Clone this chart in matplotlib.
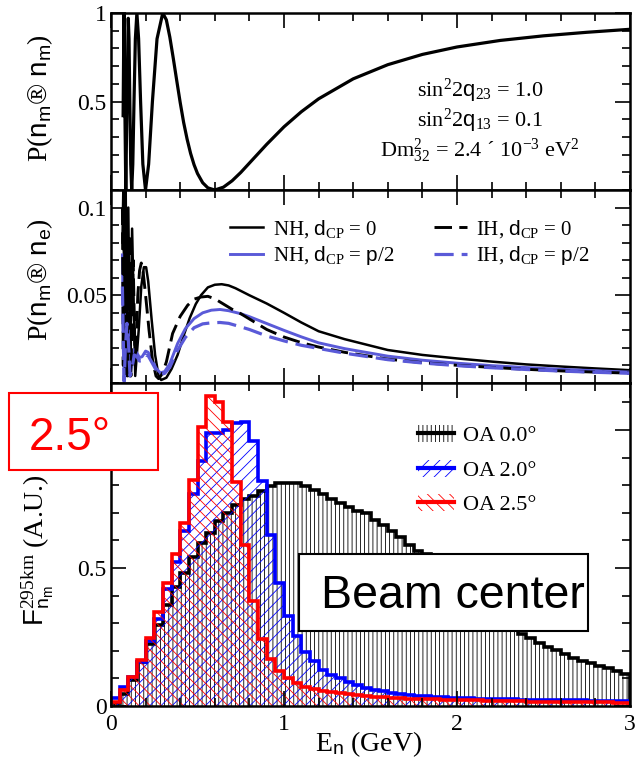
import numpy as np
import matplotlib.pyplot as plt
from matplotlib.patches import Patch, Rectangle
from matplotlib.lines import Line2D
from matplotlib.ticker import MultipleLocator

plt.rcParams['font.family'] = ['Liberation Serif', 'DejaVu Serif']
plt.rcParams['mathtext.fontset'] = 'custom'
plt.rcParams['mathtext.rm'] = 'Liberation Serif'
plt.rcParams['mathtext.it'] = 'Liberation Serif:italic'
plt.rcParams['mathtext.sf'] = 'Liberation Sans'
plt.rcParams['hatch.linewidth'] = 0.6

# --- top panel: numu survival probability ---
e_surv = [0.07, 0.0748, 0.0798, 0.0855, 0.0921, 0.0997, 0.1041, 0.1088, 0.114, 0.1197,
          0.126, 0.133, 0.1408, 0.1496, 0.1596, 0.171, 0.1841, 0.1995, 0.2176, 0.2394,
          0.266, 0.2992, 0.32, 0.34, 0.36, 0.38, 0.40, 0.42, 0.44, 0.46, 0.48, 0.50,
          0.53, 0.56, 0.60, 0.65, 0.70, 0.75, 0.80, 0.90, 1.0, 1.1, 1.2, 1.4, 1.6, 1.8,
          2.0, 2.25, 2.5, 2.75, 3.0]
p_surv = [0.42, 1.0, 0.5, 0.0, 0.5, 0.97, 0.854, 0.5, 0.146, 0.0,
          0.146, 0.5, 0.854, 1.0, 0.854, 0.5, 0.146, 0.0, 0.146, 0.5,
          0.854, 1.0, 0.961, 0.864, 0.744, 0.618, 0.494, 0.381, 0.287, 0.207, 0.143, 0.093,
          0.041, 0.012, 0.0, 0.016, 0.052, 0.099, 0.152, 0.258, 0.357, 0.442, 0.515, 0.628,
          0.708, 0.766, 0.808, 0.845, 0.871, 0.891, 0.908]

# --- middle panel: nue appearance ---
e_nh0 = [0.066, 0.072, 0.078, 0.085, 0.092, 0.100, 0.110, 0.122, 0.140, 0.160, 0.175,
         0.190, 0.203, 0.215, 0.235, 0.255, 0.275, 0.29, 0.32, 0.35, 0.385, 0.42, 0.455,
         0.49, 0.52, 0.56, 0.60, 0.64, 0.68, 0.72, 0.80, 0.90, 1.00, 1.10, 1.20, 1.35,
         1.6, 1.8, 2.0, 2.2, 2.4, 2.6, 2.8, 3.0]
p_nh0 = [0.080, 0.115, 0.004, 0.112, 0.004, 0.100, 0.004, 0.088, 0.004, 0.030, 0.055,
         0.066, 0.066, 0.058, 0.036, 0.016, 0.004, 0.0017, 0.003, 0.008, 0.016, 0.027, 0.037,
         0.045, 0.050, 0.0545, 0.0560, 0.0563, 0.0556, 0.0540, 0.0500, 0.0453, 0.0400, 0.0345,
         0.0295, 0.0250, 0.0188, 0.0160, 0.0140, 0.0122, 0.0106, 0.0094, 0.0083, 0.0073]

e_ih0 = [0.066, 0.071, 0.077, 0.083, 0.090, 0.097, 0.105, 0.115, 0.128, 0.140, 0.155,
         0.165, 0.175, 0.185, 0.20, 0.22, 0.24, 0.26, 0.275, 0.295, 0.32, 0.356, 0.40,
         0.443, 0.48, 0.52, 0.56, 0.60, 0.65, 0.70, 0.75, 0.80, 0.90, 1.00, 1.10, 1.20,
         1.35, 1.6, 1.8, 2.0, 2.2, 2.4, 2.6, 2.8, 3.0]
p_ih0 = [0.100, 0.010, 0.105, 0.004, 0.095, 0.004, 0.085, 0.004, 0.070, 0.010, 0.050,
         0.064, 0.0684, 0.064, 0.050, 0.030, 0.013, 0.004, 0.0025, 0.005, 0.012, 0.0282, 0.038,
         0.0443, 0.0478, 0.0490, 0.0494, 0.0480, 0.0450, 0.0420, 0.0395, 0.0365, 0.0305, 0.0262,
         0.0230, 0.0205, 0.0175, 0.0136, 0.0116, 0.0101, 0.0089, 0.0078, 0.0069, 0.0062, 0.0056]

e_cp = [0.066, 0.071, 0.076, 0.083, 0.092, 0.100, 0.110, 0.120, 0.135, 0.150, 0.165,
        0.180, 0.200, 0.215, 0.235, 0.26, 0.285, 0.31, 0.34, 0.385, 0.43, 0.48, 0.53,
        0.58, 0.63, 0.68, 0.75, 0.80, 0.90, 1.00, 1.10, 1.20, 1.35, 1.6, 1.8, 2.0, 2.2,
        2.4, 2.6, 2.8, 3.0]
p_nh_pi2 = [0.073, 0.035, 0.001, 0.025, 0.041, 0.030, 0.004, 0.010, 0.019, 0.017, 0.0145,
            0.0150, 0.0182, 0.0175, 0.0135, 0.0085, 0.0058, 0.0065, 0.011, 0.0225, 0.031, 0.0367,
            0.0400, 0.0415, 0.0419, 0.0412, 0.0395, 0.0378, 0.0339, 0.0300, 0.0263, 0.0229,
            0.0196, 0.0153, 0.0130, 0.0113, 0.0099, 0.0088, 0.0078, 0.0070, 0.0062]
p_ih_pi2 = [0.055, 0.025, 0.001, 0.020, 0.034, 0.025, 0.004, 0.008, 0.016, 0.015, 0.0125,
            0.0128, 0.0160, 0.0155, 0.0120, 0.0075, 0.0048, 0.0055, 0.009, 0.0187, 0.026, 0.0315,
            0.0337, 0.0343, 0.0345, 0.0340, 0.0320, 0.0305, 0.0268, 0.0240, 0.0215, 0.0197,
            0.0170, 0.0133, 0.0114, 0.0099, 0.0087, 0.0077, 0.0068, 0.0061, 0.0055]

# --- bottom panel: off-axis fluxes, 0.05 GeV bins ---
flux_oa00 = [0.012, 0.045, 0.095, 0.16, 0.223, 0.292, 0.366, 0.431, 0.483, 0.540,
             0.592, 0.628, 0.670, 0.700, 0.727, 0.749, 0.761, 0.779, 0.797, 0.806,
             0.809, 0.807, 0.797, 0.783, 0.767, 0.749, 0.734, 0.722, 0.708, 0.698,
             0.674, 0.656, 0.635, 0.611, 0.583, 0.563, 0.551, 0.53, 0.50, 0.47,
             0.44, 0.41, 0.38, 0.35, 0.32, 0.30, 0.28, 0.26, 0.245, 0.23,
             0.215, 0.203, 0.188, 0.175, 0.164, 0.155, 0.145, 0.138, 0.127, 0.115]
flux_oa20 = [0.028, 0.07, 0.105, 0.16, 0.235, 0.314, 0.423, 0.52, 0.634, 0.768,
             0.888, 0.99, 0.99, 1.0, 1.026, 1.03, 0.96, 0.815, 0.62, 0.447,
             0.326, 0.254, 0.197, 0.163, 0.130, 0.112, 0.100, 0.088, 0.076, 0.066,
             0.058, 0.054, 0.046, 0.042, 0.040, 0.037, 0.035, 0.032, 0.031, 0.030,
             0.029, 0.028, 0.027, 0.026, 0.025, 0.025, 0.024, 0.023, 0.023, 0.022,
             0.022, 0.021, 0.021, 0.020, 0.020, 0.019, 0.019, 0.019, 0.018, 0.018]
flux_oa25 = [0.016, 0.058, 0.104, 0.167, 0.245, 0.342, 0.446, 0.552, 0.664, 0.818,
             1.01, 1.123, 1.10, 1.03, 0.81, 0.583, 0.38, 0.242, 0.169, 0.127,
             0.103, 0.085, 0.070, 0.062, 0.056, 0.050, 0.046, 0.042, 0.039, 0.036,
             0.034, 0.032, 0.030, 0.028, 0.027, 0.026, 0.025, 0.024, 0.023, 0.022,
             0.021, 0.020, 0.020, 0.019, 0.018, 0.018, 0.017, 0.017, 0.016, 0.016,
             0.015, 0.015, 0.014, 0.014, 0.014, 0.013, 0.013, 0.013, 0.012, 0.012]
bin_edges = np.arange(61) * 0.05

blue = '#5a5ad8'

fig = plt.figure(figsize=(6.4, 7.61), dpi=100)


def fy(py):
    return 1 - py / 761


L, W = 111 / 640, 519 / 640
ax1 = fig.add_axes([L, fy(190), W, 177 / 761])
ax2 = fig.add_axes([L, fy(383), W, 193 / 761])
ax3 = fig.add_axes([L, fy(706), W, 323 / 761])

for ax in (ax1, ax2, ax3):
    ax.set_xlim(0, 3)
    ax.xaxis.set_major_locator(MultipleLocator(1))
    ax.xaxis.set_minor_locator(MultipleLocator(0.2))
    ax.tick_params(which='both', direction='in', top=True, right=True, width=1.2,
                   labelsize=17, pad=3)
    ax.tick_params(which='major', length=11)
    ax.tick_params(which='minor', length=6)
    for s in ax.spines.values():
        s.set_linewidth(1.8)
ax1.tick_params(labelbottom=False)
ax2.tick_params(labelbottom=False)
ax3.tick_params(axis='x', pad=6)

# top
ax1.plot(e_surv, p_surv, color='black', lw=2.3, solid_joinstyle='round')
ax1.set_ylim(0, 1)
ax1.set_yticks([0.5, 1])
ax1.set_yticklabels(['0.5', '1'])
ax1.yaxis.set_minor_locator(MultipleLocator(0.1))
ax1.text(0.711, 0.56, 'sin$^2$2$\\mathsf{q}_{23}$ = 1.0', transform=ax1.transAxes,
         ha='center', va='center', fontsize=16)
ax1.text(0.711, 0.39, 'sin$^2$2$\\mathsf{q}_{13}$ = 0.1', transform=ax1.transAxes,
         ha='center', va='center', fontsize=16)
ax1.text(0.711, 0.225, 'Dm$^2_{32}$ = 2.4 \u00b4 10$^{-3}$ eV$^2$', transform=ax1.transAxes,
         ha='center', va='center', fontsize=16)

# middle
l1, = ax2.plot(e_nh0, p_nh0, color='black', lw=1.8)
l2, = ax2.plot(e_cp, p_nh_pi2, color=blue, lw=2.1)
l3, = ax2.plot(e_ih0, p_ih0, color='black', lw=2.1, ls=(0, (6, 2.5)))
l4, = ax2.plot(e_cp, p_ih_pi2, color=blue, lw=2.3, ls=(0, (6, 2.5)))
ax2.set_ylim(0, 0.11)
ax2.set_yticks([0.05, 0.1])
ax2.set_yticklabels(['0.05', '0.1'])
ax2.yaxis.set_minor_locator(MultipleLocator(0.01))
ax2.legend([l1, l2, l3, l4],
           ['NH, $\\mathsf{d}_\\mathrm{CP}$ = 0', 'NH, $\\mathsf{d}_\\mathrm{CP}$ = $\\mathsf{p}$/2',
            'IH, $\\mathsf{d}_\\mathrm{CP}$ = 0', 'IH, $\\mathsf{d}_\\mathrm{CP}$ = $\\mathsf{p}$/2'],
           ncol=2, loc='upper left', bbox_to_anchor=(0.229, 0.855), frameon=False,
           fontsize=15, borderpad=0, borderaxespad=0, handlelength=1.6,
           handletextpad=0.45, columnspacing=1.9, labelspacing=0.22)

# bottom
specs = [(flux_oa00, 'black', '||||', 'OA 0.0\u00b0'),
         (flux_oa20, 'blue', '///', 'OA 2.0\u00b0'),
         (flux_oa25, 'red', '\\\\\\', 'OA 2.5\u00b0')]
handles, labels = [], []
for vals, col, hatch, lab in specs:
    ax3.stairs(vals, bin_edges, fill=True, facecolor='none', edgecolor=col,
               hatch=hatch, linewidth=0)
    ax3.stairs(vals, bin_edges, color=col, linewidth=2.6)
    handles.append((Patch(facecolor='none', edgecolor=col, hatch=hatch, lw=0),
                    Line2D([], [], color=col, lw=3)))
    labels.append(lab)
ax3.set_ylim(0, 1.17)
ax3.set_yticks([0, 0.5, 1])
ax3.set_yticklabels(['0', '0.5', ''])  # the "1" sits under the 2.5° box
ax3.yaxis.set_minor_locator(MultipleLocator(0.1))
ax3.set_xticks([0, 1, 2, 3])
ax3.set_xticklabels(['0', '1', '2', '3'])
ax3.legend(handles, labels, loc='upper left', bbox_to_anchor=(0.592, 0.87),
           frameon=False, fontsize=16, borderpad=0, borderaxespad=0,
           handlelength=1.6, handleheight=0.8, handletextpad=0.4, labelspacing=0.6)

# axis labels
fig.text(40 / 640, fy(98), 'P($\\mathsf{n_m}$\u00ae $\\mathsf{n_m}$)', rotation=90,
         ha='center', va='center', fontsize=20)
fig.text(40 / 640, fy(280), 'P($\\mathsf{n_m}$\u00ae $\\mathsf{n_e}$)', rotation=90,
         ha='center', va='center', fontsize=20)
fig.text(38 / 640, fy(626), '$\\mathsf{F}^{\\mathrm{295km}}_{\\mathsf{n_m}}$ (A.U.)', rotation=90,
         ha='center', va='bottom', fontsize=20)
fig.text(369 / 640, fy(744), 'E$_\\mathsf{n}$ (GeV)', ha='center', va='center', fontsize=20)

# boxes
fig.add_artist(Rectangle((9 / 640, fy(470)), 149 / 640, 77 / 761, transform=fig.transFigure,
                         facecolor='white', edgecolor='red', lw=1.5, zorder=10))
fig.text(29 / 640, fy(450), '2.5\u00b0', color='red', fontsize=33, family='Liberation Sans',
         ha='left', va='baseline', zorder=11)
fig.add_artist(Rectangle((299 / 640, fy(631)), 289 / 640, 77 / 761, transform=fig.transFigure,
                         facecolor='white', edgecolor='black', lw=1.5, zorder=10))
fig.text(321 / 640, fy(608), 'Beam center', color='black', fontsize=33.5,
         family='Liberation Sans', ha='left', va='baseline', zorder=11)

fig.savefig('out.png', dpi=100)
